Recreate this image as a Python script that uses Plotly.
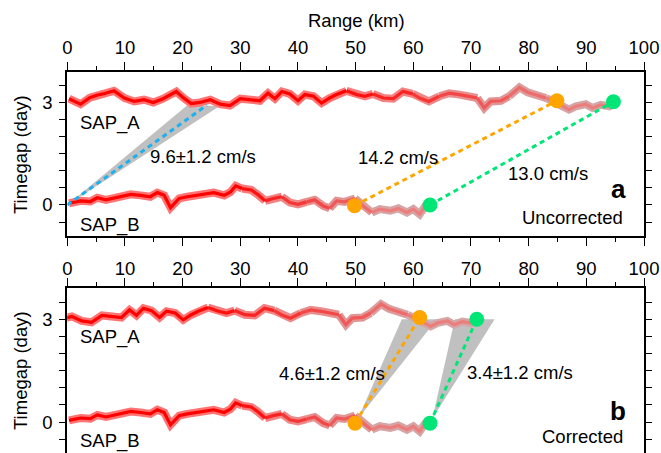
import plotly.graph_objects as go

# ---------------- data ----------------
SAP_A_KM = [0.3, 2.3, 3.9, 5.1, 6.5, 8.1, 9.9, 11.6, 13.3, 14.9, 16.6, 17.8, 18.9, 20.1, 21.5, 23.0,
            24.8, 26.5, 28.2, 30.0, 31.7, 33.4, 34.8, 36.0, 37.2, 38.6, 40.0, 41.2, 42.7, 44.1,
            45.5, 46.7, 48.4, 50.2, 51.6, 53.0, 54.8, 56.5, 58.2, 59.9, 61.1, 62.7, 64.5, 66.2,
            68.0, 69.7, 71.1, 72.3, 73.4, 75.2, 76.6, 78.4, 79.8, 81.2, 83.0, 84.4, 85.9, 87.0,
            88.2, 89.9, 91.1, 92.5, 94.0, 94.8]
SAP_A_GAP = [3.11, 2.95, 3.14, 3.21, 3.26, 3.34, 3.13, 3.03, 3.08, 3.00, 3.11, 3.21, 3.32, 3.14, 2.97, 3.00,
             3.08, 2.95, 2.91, 3.11, 3.08, 3.05, 3.27, 3.11, 3.32, 3.25, 3.05, 3.23, 3.18, 2.98,
             3.13, 3.23, 3.34, 3.23, 3.18, 3.25, 3.13, 3.11, 3.32, 3.25, 3.13, 3.03, 3.18, 3.27,
             3.23, 3.18, 3.13, 2.84, 3.03, 3.05, 3.18, 3.44, 3.30, 3.23, 3.13, 3.03, 2.89, 2.79,
             2.89, 2.95, 2.84, 2.93, 2.89, 2.98]

SAP_B_KM = [0.3, 2.3, 4.0, 5.2, 6.7, 7.8, 9.2, 11.0, 12.7, 14.4, 15.6, 16.8, 17.9, 19.4, 20.8, 22.2,
            23.7, 25.4, 27.2, 28.3, 29.2, 30.3, 31.9, 33.0, 34.3, 35.7, 37.2, 38.6, 40.0, 41.5,
            42.9, 44.4, 45.5, 46.7, 48.1, 49.9, 51.3, 52.8, 54.2, 56.0, 57.4, 58.9, 60.0, 61.1,
            62.0, 63.2]
SAP_B_GAP = [0.05, 0.12, 0.10, 0.21, 0.15, 0.19, 0.26, 0.31, 0.28, 0.24, 0.36, 0.28, -0.08, 0.19, 0.24, 0.28,
             0.31, 0.36, 0.28, 0.38, 0.56, 0.48, 0.44, 0.31, 0.12, 0.19, 0.24, 0.07, 0.02, 0.09,
             0.15, -0.03, -0.10, 0.12, 0.09, 0.19, -0.03, -0.22, -0.12, -0.17, -0.10, -0.22, -0.12, -0.27,
             -0.05, -0.03]

CORRECTION_KM = 24.0  # shift of SAP_A range after correction

# velocity picks: (x_bottom, y_bottom, x_top, y_top)
PICKS_A = {"blue": (0.0, 0.0, 24.2, 2.92),
           "orange": (49.8, -0.02, 84.9, 3.05),
           "green": (62.9, 0.0, 94.7, 3.02)}
PICKS_B = {"orange": (49.9, -0.03, 61.1, 3.05),
           "green": (62.9, -0.03, 71.0, 3.00)}
# uncertainty wedges: tip, top-left, top-right
WEDGES_A = [[(0.0, 0.0), (20.7, 2.90), (26.5, 2.90)]]
WEDGES_B = [[(50.4, 0.10), (58.0, 3.00), (64.1, 3.00)],
            [(63.3, 0.10), (67.2, 3.00), (74.1, 3.00)]]

LABELS_A = [("9.6±1.2 cm/s", 14.0, 1.46), ("14.2 cm/s", 50.0, 1.44), ("13.0 cm/s", 76.0, 0.97)]
LABELS_B = [("4.6±1.2 cm/s", 36.3, 1.46), ("3.4±1.2 cm/s", 68.9, 1.48)]

X_TICKS = list(range(0, 101, 10))
Y_TICKVALS = [-0.5, 0, 0.5, 1, 1.5, 2, 2.5, 3, 3.5]
Y_TICKTEXT = ["", "0", "", "", "", "", "", "3", ""]

# ---------------- style ----------------
FONT = "Liberation Sans, Arial, Helvetica, sans-serif"
FS = 18.5
COL = {"blue": "#1cb0ee", "orange": "#ffa500", "green": "#00e676"}
W, H = 661, 453
XD = [67.3 / W, 644.0 / W]
YD_A = [1 - 235.7 / H, 1 - 71.7 / H]
YD_B = [0.0, 1 - 288.3 / H]
YR = [-0.9, 3.9]

fig = go.Figure()


def lerp(c0, c1, t):
    return tuple(c0[i] + (c1[i] - c0[i]) * t for i in range(3))


def add_curve(xs, ys, fade0, fade1, xaxis, yaxis, shift=0.0):
    nb = 8
    # contiguous runs of segments sharing a colour bin
    runs = []
    for i in range(len(xs) - 1):
        xm = 0.5 * (xs[i] + xs[i + 1])
        t = min(1.0, max(0.0, (xm - fade0) / (fade1 - fade0)))
        k = int(round(t * (nb - 1)))
        if runs and runs[-1][0] == k:
            runs[-1][1].append(i + 1)
        else:
            runs.append((k, [i, i + 1]))
    for layer in ("halo", "core"):
        for k, idx in runs:
            t = k / (nb - 1)
            if layer == "halo":
                c = lerp((255, 115, 115), (214, 165, 165), t)
                w = 8
            else:
                c = lerp((255, 0, 0), (235, 125, 125), t)
                w = 3.2
            fig.add_trace(go.Scatter(x=[xs[j] - shift for j in idx], y=[ys[j] for j in idx],
                                     mode="lines", xaxis=xaxis, yaxis=yaxis,
                                     line=dict(color="rgb(%d,%d,%d)" % c, width=w),
                                     hoverinfo="skip", showlegend=False))


def add_wedges(wedges, xaxis, yaxis):
    for wdg in wedges:
        xs = [p[0] for p in wdg] + [wdg[0][0]]
        ys = [p[1] for p in wdg] + [wdg[0][1]]
        fig.add_trace(go.Scatter(x=xs, y=ys, mode="lines", fill="toself", fillcolor="#c0c0c0",
                                 line=dict(width=0, color="#c0c0c0"), xaxis=xaxis, yaxis=yaxis,
                                 hoverinfo="skip", showlegend=False))


def add_picks(picks, xaxis, yaxis):
    for name, (x0, y0, x1, y1) in picks.items():
        fig.add_trace(go.Scatter(x=[x0, x1], y=[y0, y1], mode="lines", xaxis=xaxis, yaxis=yaxis,
                                 line=dict(color=COL[name], width=3, dash="5px,4px"),
                                 hoverinfo="skip", showlegend=False))
        if name != "blue":
            fig.add_trace(go.Scatter(x=[x0, x1], y=[y0, y1], mode="markers", xaxis=xaxis, yaxis=yaxis,
                                     marker=dict(color=COL[name], size=15, line=dict(width=0)),
                                     hoverinfo="skip", showlegend=False))


# panel a
add_wedges(WEDGES_A, "x", "y")
add_curve(SAP_A_KM, SAP_A_GAP, 45, 85, "x", "y")
add_curve(SAP_B_KM, SAP_B_GAP, 28, 55, "x", "y")
add_picks(PICKS_A, "x", "y")
# panel b
add_wedges(WEDGES_B, "x2", "y2")
add_curve(SAP_A_KM, SAP_A_GAP, 45, 85, "x2", "y2", shift=CORRECTION_KM)
add_curve(SAP_B_KM, SAP_B_GAP, 28, 55, "x2", "y2")
add_picks(PICKS_B, "x2", "y2")

tickfont = dict(family=FONT, size=FS, color="black")
xcommon = dict(range=[0, 100], tickvals=X_TICKS, ticks="outside", ticklen=8, tickwidth=1,
               tickcolor="black", showline=True, linewidth=2, linecolor="black", showgrid=False,
               zeroline=False, side="top", tickfont=tickfont, automargin=False,
               minor=dict(dtick=5, ticks="outside", ticklen=4, tickwidth=1, tickcolor="black",
                          showgrid=False))
ycommon = dict(range=YR, tickvals=Y_TICKVALS, ticktext=Y_TICKTEXT, ticks="outside", ticklen=6,
               tickwidth=1, tickcolor="black", showline=True, linewidth=2, linecolor="black",
               showgrid=False, zeroline=False, mirror="ticks", tickfont=tickfont,
               automargin=False, ticklabelstandoff=3)

anns = []


def ann(text, x, y, xr, yr, xanchor="left", size=FS, bold=False):
    anns.append(dict(text=("<b>%s</b>" % text) if bold else text, x=x, y=y, xref=xr, yref=yr,
                     xanchor=xanchor, yanchor="middle", showarrow=False,
                     font=dict(family=FONT, size=size, color="black")))


ann("SAP_A", 1.9, 2.40, "x", "y")
ann("SAP_B", 1.9, -0.58, "x", "y")
for t, x, y in LABELS_A:
    ann(t, x, y - 0.04, "x", "y")
ann("a", 97.3, 0.47, "x", "y", xanchor="right", size=26, bold=True)
ann("Uncorrected", 96.7, -0.36, "x", "y", xanchor="right")

ann("SAP_A", 1.9, 2.47, "x2", "y2")
ann("SAP_B", 1.9, -0.56, "x2", "y2")
for t, x, y in LABELS_B:
    ann(t, x, y - 0.04, "x2", "y2")
ann("b", 97.3, 0.32, "x2", "y2", xanchor="right", size=26, bold=True)
ann("Corrected", 96.7, -0.43, "x2", "y2", xanchor="right")

anns.append(dict(text="Range (km)", x=356 / W, y=1 - 20 / H, xref="paper", yref="paper",
                 xanchor="center", yanchor="middle", showarrow=False,
                 font=dict(family=FONT, size=FS, color="black")))
for yc in (155, 371):
    anns.append(dict(text="Timegap (day)", x=20 / W, y=1 - yc / H, xref="paper", yref="paper",
                     xanchor="center", yanchor="middle", showarrow=False, textangle=-90,
                     font=dict(family=FONT, size=FS, color="black")))

fig.update_layout(
    width=W, height=H, margin=dict(l=0, r=0, t=0, b=0),
    paper_bgcolor="white", plot_bgcolor="white", showlegend=False,
    xaxis=dict(domain=XD, anchor="y", mirror="ticks", **xcommon),
    yaxis=dict(domain=YD_A, anchor="x", **ycommon),
    xaxis2=dict(domain=XD, anchor="y2", mirror=False, ticklabelstandoff=-4, **xcommon),
    yaxis2=dict(domain=YD_B, anchor="x2", **ycommon),
    annotations=anns,
)

fig.write_html("out.html")
